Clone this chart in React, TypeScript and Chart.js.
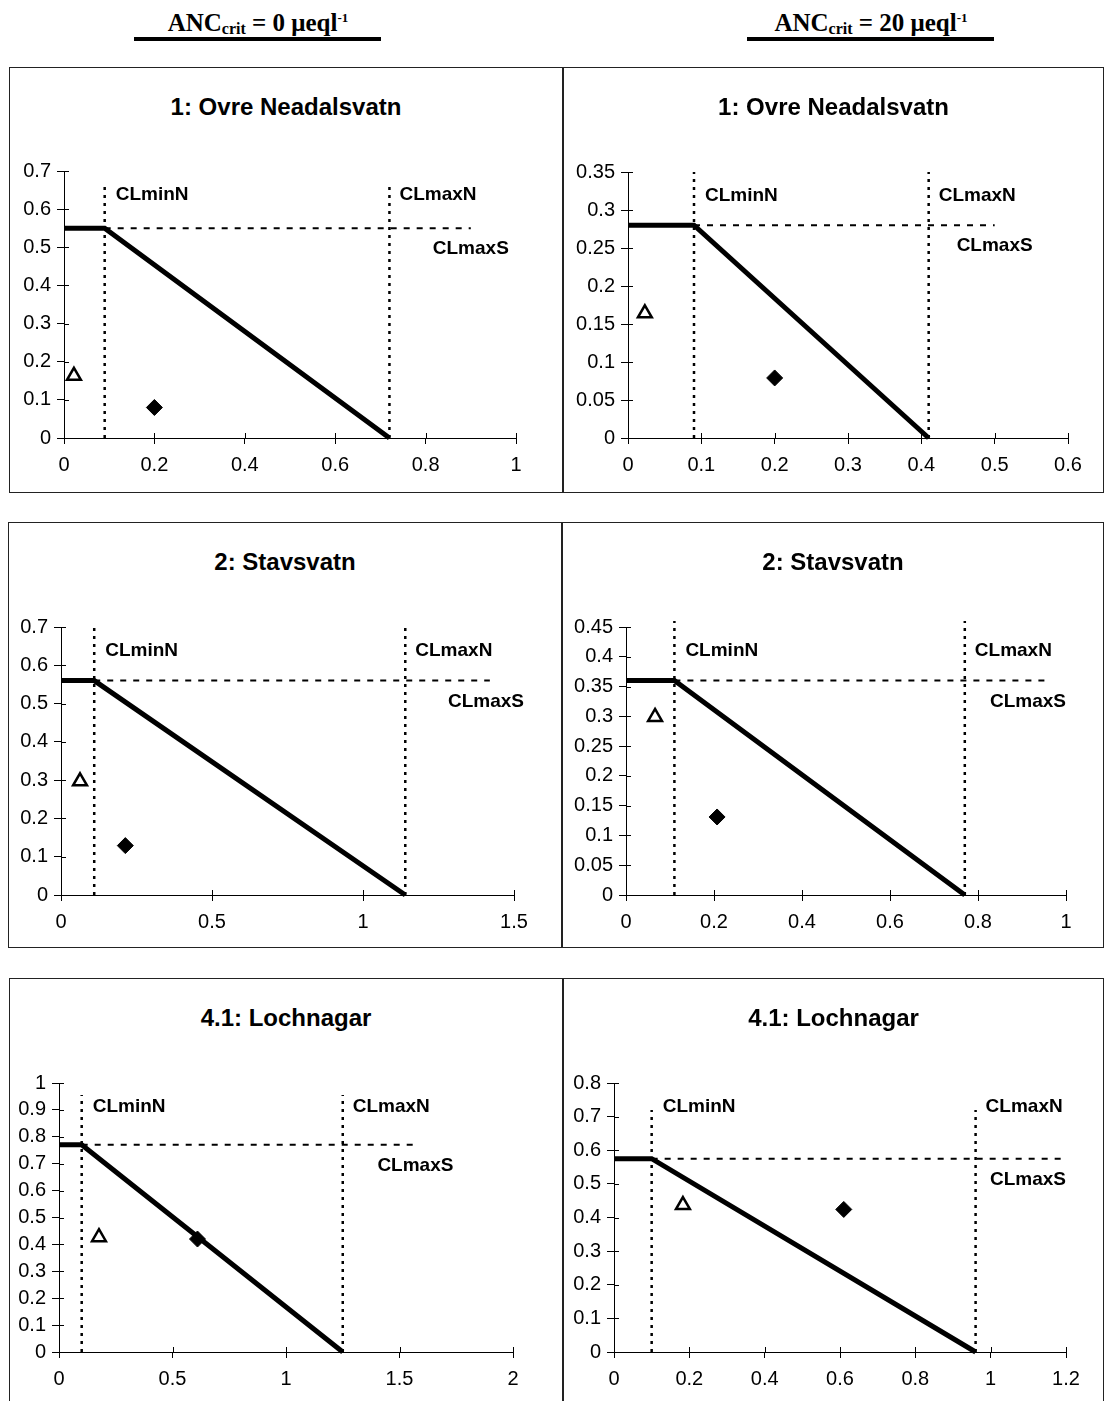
import React, { useEffect, useRef } from "react";
import { Chart, registerables } from "chart.js";

Chart.register(...registerables);

// ---------- data ----------
const PANEL_TITLES = [
  "1: Ovre Neadalsvatn",
  "1: Ovre Neadalsvatn",
  "2: Stavsvatn",
  "2: Stavsvatn",
  "4.1: Lochnagar",
  "4.1: Lochnagar",
];
const HEADERS = ["0", "20"];
// critical load function corner values (eq/m2/yr)
const CL_MAX_S = [0.55, 0.28, 0.56, 0.36, 0.77, 0.575];
const CL_MIN_N = [0.09, 0.09, 0.11, 0.11, 0.1, 0.1];
const CL_MAX_N = [0.72, 0.41, 1.14, 0.77, 1.25, 0.96];
// extent of guide lines
const S_LINE_END = [0.9, 0.5, 1.42, 0.965, 1.57, 1.2];
const N_LINE_TOP = [0.665, 0.35, 0.7, 0.46, 0.955, 0.72];
// deposition points
const TRI_N = [0.022, 0.023, 0.063, 0.066, 0.176, 0.183];
const TRI_S = [0.163, 0.164, 0.297, 0.299, 0.427, 0.437];
const DIA_N = [0.2, 0.2, 0.213, 0.207, 0.61, 0.61];
const DIA_S = [0.08, 0.079, 0.129, 0.131, 0.42, 0.424];
// axes
const X_MAX = [1, 0.6, 1.5, 1, 2, 1.2];
const X_STEP = [0.2, 0.1, 0.5, 0.2, 0.5, 0.2];
const Y_MAX = [0.7, 0.35, 0.7, 0.45, 1, 0.8];
const Y_STEP = [0.1, 0.05, 0.1, 0.05, 0.1, 0.1];

// ---------- layout (page pixels) ----------
const BOXES = [
  { x: 9, y: 67, w: 554, h: 426 },
  { x: 563, y: 67, w: 541, h: 426 },
  { x: 8, y: 522, w: 554, h: 426 },
  { x: 562, y: 522, w: 542, h: 426 },
  { x: 9, y: 978, w: 554, h: 440 },
  { x: 563, y: 978, w: 541, h: 440 },
];
const PLOTS = [
  { l: 64, r: 516, t: 171, b: 438 },
  { l: 628, r: 1068, t: 172, b: 438 },
  { l: 61, r: 514, t: 627, b: 895 },
  { l: 626, r: 1066, t: 627, b: 895 },
  { l: 59, r: 513, t: 1083, b: 1352 },
  { l: 614, r: 1066, t: 1083, b: 1352 },
];
const CANVAS_EXTRA_LEFT = 20;
const Y_AXIS_W = 60;
const X_AXIS_H = 40;
const SANS = '"Liberation Sans", Arial, sans-serif';
const SERIF = '"Liberation Serif", "Times New Roman", serif';

const fmt = (v: number) => String(Math.round(v * 10000) / 10000);

const annotPlugin = {
  id: "annot",
  afterDraw(chart: any) {
    const i = chart.options.plugins.annot.idx;
    const ctx = chart.ctx;
    const xs = chart.scales.x;
    const ys = chart.scales.y;
    ctx.save();
    ctx.strokeStyle = "#000";
    ctx.lineWidth = 1;
    // inner parts of cross ticks
    ctx.beginPath();
    ys.ticks.forEach((t: any) => {
      const py = Math.round(ys.getPixelForValue(t.value)) + 0.5;
      ctx.moveTo(xs.left, py);
      ctx.lineTo(xs.left + 5, py);
    });
    xs.ticks.forEach((t: any) => {
      const px = Math.round(xs.getPixelForValue(t.value)) + 0.5;
      ctx.moveTo(px, ys.bottom);
      ctx.lineTo(px, ys.bottom - 5);
    });
    ctx.stroke();
    // labels
    ctx.fillStyle = "#000";
    ctx.font = "bold 19px " + SANS;
    ctx.textBaseline = "middle";
    ctx.textAlign = "left";
    const ly = ys.top + 24;
    ctx.fillText("CLminN", xs.getPixelForValue(CL_MIN_N[i]) + 11, ly);
    ctx.fillText("CLmaxN", xs.getPixelForValue(CL_MAX_N[i]) + 10, ly);
    const w = ctx.measureText("CLmaxS").width;
    let cx = xs.getPixelForValue(S_LINE_END[i]);
    const maxRight = chart.width - 38;
    if (cx + w / 2 > maxRight) cx = maxRight - w / 2;
    ctx.textAlign = "center";
    ctx.fillText("CLmaxS", cx, ys.getPixelForValue(CL_MAX_S[i]) + 21);
    ctx.restore();
  },
};

function Panel({ idx }: { idx: number }) {
  const ref = useRef<HTMLCanvasElement>(null);
  const box = BOXES[idx];
  const plot = PLOTS[idx];
  const cvX = box.x - CANVAS_EXTRA_LEFT;
  const cvW = box.w + CANVAS_EXTRA_LEFT;
  useEffect(() => {
    if (!ref.current) return;
    const i = idx;
    const func = [
      { x: 0, y: CL_MAX_S[i] },
      { x: CL_MIN_N[i], y: CL_MAX_S[i] },
      { x: CL_MAX_N[i], y: 0 },
    ];
    const chart = new Chart(ref.current, {
      type: "scatter",
      data: {
        datasets: [
          {
            data: [
              { x: CL_MIN_N[i], y: CL_MAX_S[i] },
              { x: S_LINE_END[i], y: CL_MAX_S[i] },
            ],
            showLine: true,
            borderColor: "#000",
            borderWidth: 2,
            borderDash: [6, 7],
            pointRadius: 0,
            clip: false,
          } as any,
          {
            data: [
              { x: CL_MIN_N[i], y: 0 },
              { x: CL_MIN_N[i], y: N_LINE_TOP[i] },
            ],
            showLine: true,
            borderColor: "#000",
            borderWidth: 2.5,
            borderDash: [3, 5],
            pointRadius: 0,
            clip: false,
          },
          {
            data: [
              { x: CL_MAX_N[i], y: 0 },
              { x: CL_MAX_N[i], y: N_LINE_TOP[i] },
            ],
            showLine: true,
            borderColor: "#000",
            borderWidth: 2.5,
            borderDash: [3, 5],
            pointRadius: 0,
            clip: false,
          },
          {
            data: func,
            showLine: true,
            borderColor: "#000",
            borderWidth: 5,
            pointRadius: 0,
            clip: false,
          },
          {
            data: [{ x: TRI_N[i], y: TRI_S[i] }],
            pointStyle: "triangle",
            pointRadius: 8,
            pointBackgroundColor: "#fff",
            pointBorderColor: "#000",
            pointBorderWidth: 2.5,
            clip: false,
          },
          {
            data: [{ x: DIA_N[i], y: DIA_S[i] }],
            pointStyle: "rectRot",
            pointRadius: 8,
            pointBackgroundColor: "#000",
            pointBorderColor: "#000",
            pointBorderWidth: 1,
            clip: false,
          },
        ],
      },
      options: {
        responsive: false,
        animation: false,
        devicePixelRatio: 1,
        events: [],
        layout: {
          padding: {
            left: plot.l - cvX - Y_AXIS_W,
            right: box.x + box.w - plot.r,
            top: plot.t - box.y,
            bottom: box.y + box.h - plot.b - X_AXIS_H,
          },
        },
        plugins: {
          legend: { display: false },
          tooltip: { enabled: false },
          title: { display: false },
          annot: { idx: i },
        } as any,
        scales: {
          x: {
            type: "linear",
            min: 0,
            max: X_MAX[i],
            afterFit: (s: any) => {
              s.height = X_AXIS_H;
            },
            ticks: {
              stepSize: X_STEP[i],
              autoSkip: false,
              color: "#000",
              font: { family: SANS, size: 20 },
              padding: 9,
              maxRotation: 0,
              callback: (v: any) => fmt(Number(v)),
            },
            grid: {
              drawOnChartArea: false,
              drawTicks: true,
              tickLength: 6,
              color: "#000",
            },
            border: { display: true, color: "#000", width: 1 },
          },
          y: {
            type: "linear",
            min: 0,
            max: Y_MAX[i],
            afterFit: (s: any) => {
              s.width = Y_AXIS_W;
            },
            ticks: {
              stepSize: Y_STEP[i],
              autoSkip: false,
              color: "#000",
              font: { family: SANS, size: 20 },
              padding: 6,
              callback: (v: any) => fmt(Number(v)),
            },
            grid: {
              drawOnChartArea: false,
              drawTicks: true,
              tickLength: 7,
              color: "#000",
            },
            border: { display: true, color: "#000", width: 1 },
          },
        },
      },
      plugins: [annotPlugin],
    } as any);
    return () => chart.destroy();
  }, [idx]);

  return (
    <>
      <div
        style={{
          position: "absolute",
          left: box.x,
          top: box.y,
          width: box.w,
          height: box.h,
          border: "1.5px solid #222",
          boxSizing: "border-box",
        }}
      />
      <div
        style={{
          position: "absolute",
          left: box.x,
          top: box.y + 26,
          width: box.w,
          textAlign: "center",
          font: "bold 24px " + SANS,
          lineHeight: "28px",
          color: "#000",
        }}
      >
        {PANEL_TITLES[idx]}
      </div>
      <canvas
        ref={ref}
        width={cvW}
        height={box.h}
        style={{
          position: "absolute",
          left: cvX,
          top: box.y,
          width: cvW,
          height: box.h,
        }}
      />
    </>
  );
}

function Header({ cx, value }: { cx: number; value: string }) {
  return (
    <>
      <div
        style={{
          position: "absolute",
          left: cx - 200,
          width: 400,
          top: 3,
          textAlign: "center",
          font: "bold 25px " + SERIF,
          lineHeight: "30px",
          color: "#000",
        }}
      >
        ANC
        <span style={{ fontSize: 16, verticalAlign: "-3px" }}>crit</span>
        {" = " + value + " \u03bceql"}
        <span style={{ fontSize: 13, verticalAlign: "9px" }}>-1</span>
      </div>
      <div
        style={{
          position: "absolute",
          left: cx - 124,
          width: 247,
          top: 37,
          height: 4,
          background: "#000",
        }}
      />
    </>
  );
}

export default function App() {
  return (
    <div
      style={{
        position: "absolute",
        left: 0,
        top: 0,
        width: 1104,
        height: 1401,
        overflow: "hidden",
        background: "#fff",
      }}
    >
      <Header cx={258} value={HEADERS[0]} />
      <Header cx={871} value={HEADERS[1]} />
      {PANEL_TITLES.map((_, i) => (
        <Panel key={i} idx={i} />
      ))}
    </div>
  );
}
